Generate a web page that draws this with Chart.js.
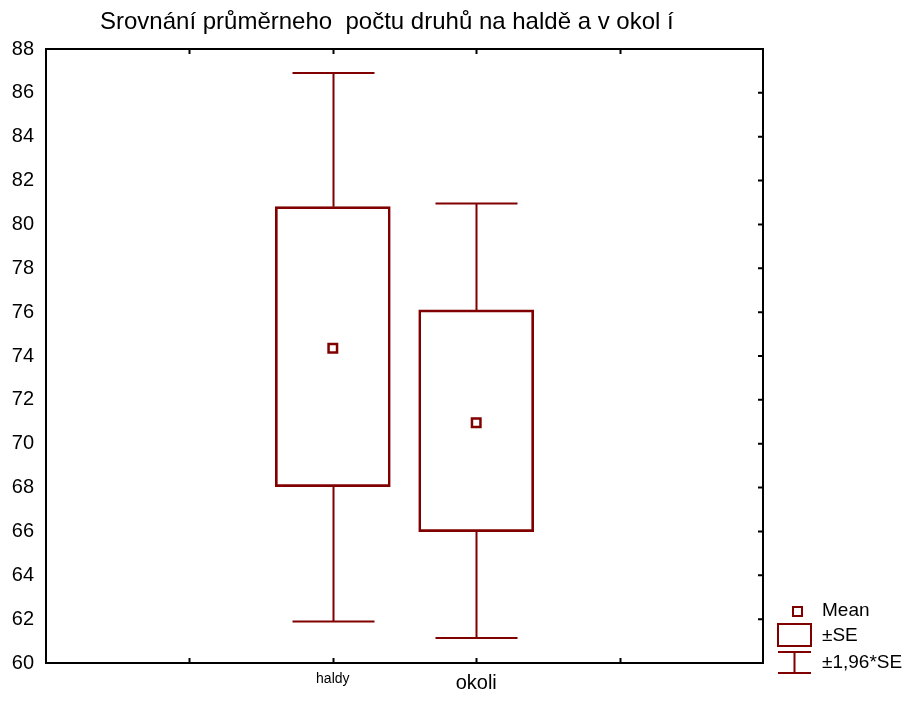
<!DOCTYPE html>
<html>
<head>
<meta charset="utf-8">
<script src="https://cdn.jsdelivr.net/npm/chart.js@4/dist/chart.umd.min.js"></script>
<style>
  html, body { margin: 0; padding: 0; background: #fff; }
  #wrap { width: 912px; height: 702px; }
</style>
</head>
<body>
<div id="wrap"><canvas id="chart"></canvas></div>
<script>
// x axis slots, only two of them hold a group
var xLabels = ['', '', 'haldy', 'okoli', '', ''];
var groups = ['haldy', 'okoli'];
var means = [74.35, 70.96];
var seLow = [68.04, 65.99];
var seHigh = [80.81, 76.10];
var ciLow = [61.89, 61.14];
var ciHigh = [86.91, 80.96];

var titleText = 'Srovnání průměrneho  počtu druhů na haldě a v okol í';
var legendLabels = ['Mean', '±SE', '±1,96*SE'];

var red = '#800000';
var fontName = '"Liberation Sans", Arial, sans-serif';

var boxData = groups.map(function(g, i) { return { x: g, y: [seLow[i], seHigh[i]] }; });
var meanData = groups.map(function(g, i) { return { x: g, y: means[i] }; });

// whiskers, frame with inner ticks, title and legend
var extras = {
  id: 'extras',
  afterDatasetsDraw: function(chart) {
    var ctx = chart.ctx;
    var xs = chart.scales.x, ys = chart.scales.y;
    ctx.save();
    ctx.strokeStyle = red;
    ctx.lineWidth = 2;
    for (var i = 0; i < groups.length; i++) {
      var px = Math.round(xs.getPixelForValue(xs.getLabels().indexOf(groups[i]))) + 0.5;
      var yTop = ys.getPixelForValue(ciHigh[i]);
      var yBot = ys.getPixelForValue(ciLow[i]);
      ctx.beginPath();
      ctx.moveTo(px, ys.getPixelForValue(seHigh[i]));
      ctx.lineTo(px, yTop);
      ctx.moveTo(px - 41, yTop);
      ctx.lineTo(px + 41, yTop);
      ctx.moveTo(px, ys.getPixelForValue(seLow[i]));
      ctx.lineTo(px, yBot);
      ctx.moveTo(px - 41, yBot);
      ctx.lineTo(px + 41, yBot);
      ctx.stroke();
    }
    ctx.restore();
  },
  afterDraw: function(chart) {
    var ctx = chart.ctx;
    var a = chart.chartArea;
    var xs = chart.scales.x, ys = chart.scales.y;
    ctx.save();
    // frame
    ctx.strokeStyle = '#000';
    ctx.lineWidth = 2;
    ctx.strokeRect(a.left, a.top, a.right - a.left, a.bottom - a.top);
    ctx.beginPath();
    for (var k = 1; k < xLabels.length - 1; k++) {
      var tx = Math.round(xs.getPixelForValue(k)) + 0.5;
      ctx.moveTo(tx, a.top); ctx.lineTo(tx, a.top + 5);
      ctx.moveTo(tx, a.bottom); ctx.lineTo(tx, a.bottom - 5);
    }
    ys.ticks.forEach(function(t) {
      var ty = ys.getPixelForValue(t.value);
      ctx.moveTo(a.right, ty); ctx.lineTo(a.right - 5, ty);
    });
    ctx.stroke();

    // title
    ctx.fillStyle = '#000';
    ctx.font = '24px ' + fontName;
    ctx.textAlign = 'left';
    ctx.textBaseline = 'middle';
    ctx.fillText(titleText, 100, 22);

    // legend
    ctx.strokeStyle = red;
    ctx.lineWidth = 2;
    ctx.fillStyle = '#fff';
    ctx.fillRect(793, 607, 9, 9);
    ctx.strokeRect(793, 607, 9, 9);
    ctx.strokeRect(778, 624, 33, 22);
    ctx.beginPath();
    ctx.moveTo(778, 652); ctx.lineTo(811, 652);
    ctx.moveTo(794.5, 652); ctx.lineTo(794.5, 673);
    ctx.moveTo(778, 673); ctx.lineTo(811, 673);
    ctx.stroke();
    ctx.fillStyle = '#000';
    ctx.font = '19px ' + fontName;
    ctx.fillText(legendLabels[0], 822, 611);
    ctx.fillText(legendLabels[1], 822, 636);
    ctx.fillText(legendLabels[2], 822, 663);
    ctx.restore();
  }
};

new Chart(document.getElementById('chart'), {
  data: {
    labels: xLabels,
    datasets: [
      {
        type: 'line',
        label: 'Mean',
        data: meanData,
        showLine: false,
        pointStyle: 'rect',
        pointRadius: 6,
        pointBackgroundColor: '#fff',
        pointBorderColor: red,
        pointBorderWidth: 2.5,
        order: 0
      },
      {
        type: 'bar',
        label: '±SE',
        data: boxData,
        backgroundColor: 'rgba(0,0,0,0)',
        borderColor: red,
        borderWidth: 2,
        borderSkipped: false,
        barThickness: 115,
        order: 1
      }
    ]
  },
  options: {
    responsive: true,
    maintainAspectRatio: false,
    animation: false,
    layout: { padding: { top: 49, right: 149, left: 0, bottom: 0 } },
    plugins: {
      legend: { display: false },
      tooltip: { enabled: false },
      title: { display: false }
    },
    scales: {
      x: {
        type: 'category',
        offset: false,
        grid: { display: false, drawTicks: false },
        border: { display: false },
        ticks: {
          autoSkip: false,
          maxRotation: 0,
          padding: 8,
          color: '#000',
          font: function(c) {
            return { family: fontName, size: c.index === 2 ? 14 : 20 };
          }
        },
        afterFit: function(s) { s.height = 39; }
      },
      y: {
        min: 60,
        max: 88,
        grid: { display: false, drawTicks: false },
        border: { display: false },
        ticks: {
          stepSize: 2,
          padding: 12,
          color: '#000',
          font: { family: fontName, size: 20 }
        },
        afterFit: function(s) { s.width = 46; }
      }
    }
  },
  plugins: [extras]
});
</script>
</body>
</html>
